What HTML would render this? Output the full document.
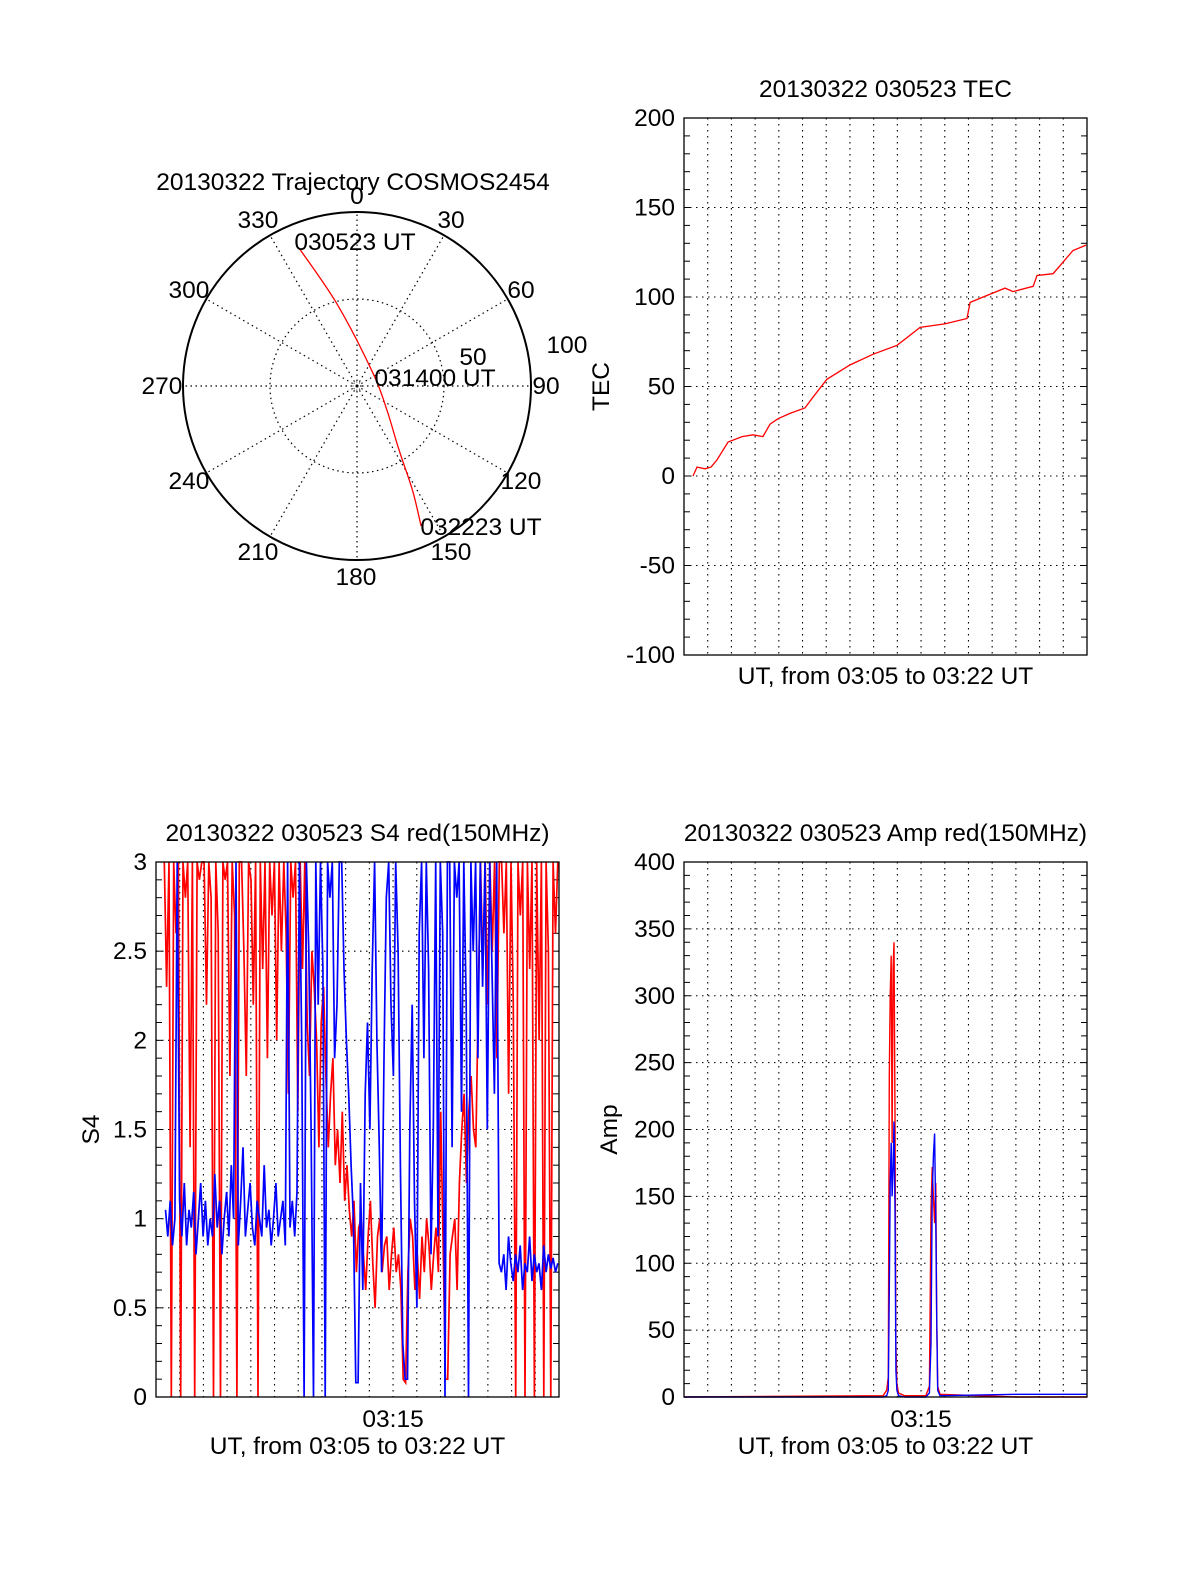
<!DOCTYPE html>
<html><head><meta charset="utf-8"><style>
html,body{margin:0;padding:0;background:#fff}
svg text{font-family:"Liberation Sans",sans-serif;font-size:24.5px;fill:#000}
</style></head><body>
<svg id="c" width="1200" height="1575" viewBox="0 0 1200 1575" xmlns="http://www.w3.org/2000/svg"></svg>
<script>
// ---- Polar trajectory data ----
const trajAz = [337.2, 346.5, 50.9, 128.7, 146.7, 152, 155.4];
const trajR = [86, 48, 11.8, 22, 44, 68, 88.5];
const polarAngles = [0,30,60,90,120,150,180,210,240,270,300,330];
// ---- TEC data ----
const tecT = [0.38,0.55,0.89,1.14,1.39,1.86,2.45,2.91,3.33,3.63,3.97,4.47,5.1,5.44,6.03,7.0,7.97,8.99,9.96,11.0,11.94,12.07,13.54,13.88,14.73,14.89,15.57,16.41,16.96];
const tecV = [0,5,4,5,9,19,22,23,22,29,32,35,38,44,54,62,68,73,83,85,88,97,105,103,106,112,113,126,129];
const tecTicks = [200,150,100,50,0,-50,-100];
// ---- S4 data (uniform time steps) ----
const s4Red = [3,2.3,3,0,3,2.6,3,0,3,2.8,3,1.4,3,0,3,2.9,3,3,2.2,3,2.8,0,3,2.6,0,3,2.9,3,1.8,3,2.7,0,3,3,2.5,1.8,3,2.9,2.2,3,0,3,2.4,3,1.9,3,2.7,3,2.0,3,2.5,3,2.6,1.7,3,2.8,3,1.6,3,2.4,3,2.1,1.8,2.5,2.3,2.0,1.4,2.1,2.3,1.8,1.4,1.7,1.9,1.3,1.5,1.2,1.6,1.1,1.3,1.05,0.9,1.1,0.7,0.95,1.0,0.8,0.6,0.9,1.1,0.75,0.5,0.9,1.0,0.7,0.85,0.9,0.6,0.8,0.95,0.7,0.8,0.6,0.1,0.08,0.7,1.0,0.9,0.6,0.8,0.55,0.9,0.7,1.0,0.85,0.6,0.8,0.95,0.7,1.6,0.9,0.1,0.1,0.8,0.9,1.0,0.6,1.2,1.5,1.7,1.2,1.6,1.8,1.5,1.4,2.2,3,2.4,3,2.2,3,2.5,3,1.9,3,3,2.6,3,1.7,3,2.2,0,3,2.7,3,0,3,2.4,3,0,3,2.0,3,0,3,2.5,0,3,2.6,3];
const s4RedStart = 0.35, s4RedEnd = 16.95;
const s4Blue = [1.05,0.9,1.1,0.85,1.0,3,1.1,0.9,1.2,0.85,1.05,0.95,1.15,0.8,1.0,1.2,0.9,1.1,0.85,1.0,0.9,1.25,0.95,1.1,0.8,1.0,1.15,0.9,1.3,1.0,3,0.85,1.1,1.4,0.9,1.05,1.2,0.95,0.85,1.1,1.0,0.9,1.3,0.95,1.05,0.85,1.0,1.2,0.9,1.0,1.1,0.85,3,0.95,1.1,0.9,1.15,3,2.0,0,3,2.5,1.5,0,3,2.2,3,2.4,0,3,2.8,3,1.9,2.2,3,3,2.4,2.0,1.7,1.3,1.0,0.08,0.08,1.2,0.6,1.7,2.1,1.5,2.4,3,2.0,1.4,0.7,1.9,2.8,3,2.2,1.8,3,2.5,1.3,0.3,0.1,0.1,1.5,2.2,1.1,0.5,2.6,3,1.9,3,2.4,0.8,1.5,3,0.9,3,2.6,0,3,3,1.4,3,2.8,3,1.6,3,2.2,0,3,2.5,3,1.9,3,2.3,3,1.5,3,2.4,1.7,3,0.75,0.7,0.8,0.6,0.9,0.75,0.65,0.8,0.7,0.85,0.6,0.75,0.7,0.9,0.65,0.8,0.7,0.75,0.6,0.85,0.7,0.8,0.72,0.78,0.7,0.75];
const s4BlueStart = 0.4, s4BlueEnd = 16.95;
const s4Ticks = [3,2.5,2,1.5,1,0.5,0];
// ---- Amp data ----
const ampT = [0,8.4,8.55,8.62,8.66,8.7,8.74,8.78,8.82,8.86,8.9,8.94,8.98,9.05,9.3,10.2,10.35,10.42,10.47,10.52,10.57,10.62,10.66,10.7,10.8,14,16.9,17];
const ampRed = [0,1,5,15,240,300,330,190,320,340,210,40,10,3,1,1,8,140,172,150,130,160,60,8,2,0,0,0];
const ampBlue = [0,0,1,5,80,160,190,150,170,206,140,20,5,1,0,0,3,40,150,180,197,130,60,5,1,2,2,2];
const ampTicks = [400,350,300,250,200,150,100,50,0];

const NS='http://www.w3.org/2000/svg';
const svg=document.getElementById('c');
function mk(tag,attrs,parent){const e=document.createElementNS(NS,tag);for(const k in attrs)e.setAttribute(k,attrs[k]);(parent||svg).appendChild(e);return e;}
function txt(s,x,y,anchor,parent){const t=mk('text',{x:x,y:y,'text-anchor':anchor||'middle'},parent);t.textContent=s;return t;}

// ---------- Polar ----------
const pg=mk('g',{});


const cx=357,cy=386,R=174;
function pr(r){return r/100*R;}
function pxy(az,r){const a=az*Math.PI/180;return [cx+pr(r)*Math.sin(a),cy-pr(r)*Math.cos(a)];}
polarAngles.forEach(a=>{const p=pxy(a,100);const l=mk('line',{x1:cx,y1:cy,x2:p[0],y2:p[1],stroke:'#000','stroke-dasharray':'1.5,3.5','stroke-width':1.2},pg);

});
const ic=mk('circle',{cx:cx,cy:cy,r:pr(50),fill:'none',stroke:'#000','stroke-dasharray':'1.5,3.5','stroke-width':1.2},pg);


const oc=mk('circle',{cx:cx,cy:cy,r:R,fill:'none',stroke:'#000','stroke-width':2},pg);


mk('circle',{cx:cx,cy:cy,r:4,fill:'none',stroke:'#000','stroke-dasharray':'1,2'},pg);
const lblPos={0:[357,204],30:[451,228],60:[521,298],90:[546,394],120:[521,489],150:[451,560],180:[356,585],210:[258,560],240:[189,489],270:[162,394],300:[189,298],330:[258,228]};
polarAngles.forEach(a=>{const t=txt(String(a),lblPos[a][0],lblPos[a][1],'middle',pg);

});
let tp=trajAz.map((a,i)=>pxy(a,trajR[i]));
let d='M'+tp[0][0]+','+tp[0][1];
for(let i=0;i<tp.length-1;i++){const p0=tp[Math.max(0,i-1)],p1=tp[i],p2=tp[i+1],p3=tp[Math.min(tp.length-1,i+2)];
d+=' C'+(p1[0]+(p2[0]-p0[0])/6)+','+(p1[1]+(p2[1]-p0[1])/6)+' '+(p2[0]-(p3[0]-p1[0])/6)+','+(p2[1]-(p3[1]-p1[1])/6)+' '+p2[0]+','+p2[1];}
const tr=mk('path',{d:d,fill:'none',stroke:'#f00','stroke-width':1.3},pg);


[['20130322 Trajectory COSMOS2454',353,190,'polar-title'],['030523 UT',355,250,'start-time-label'],['031400 UT',435,386,'mid-time-label'],['032223 UT',481,535,'end-time-label'],['50',473,365,'radius-label-50'],['100',567,353,'radius-label-100']].forEach(a=>{const t=txt(a[0],a[1],a[2],'middle',pg);

});

// ---------- Cartesian helper ----------
function axes(name,x0,x1,y0,y1,vmin,vmax,ticks,minorStep,title,ylabel,ylx,showTime){
  const g=mk('g',{});
  
  
  const sx=t=>x0+(x1-x0)*t/17, sy=v=>y1-(y1-y0)*(v-vmin)/(vmax-vmin);
  for(let k=1;k<17;k++){const l=mk('line',{x1:sx(k),x2:sx(k),y1:y0,y2:y1,stroke:'#000','stroke-dasharray':'1.5,4.5','stroke-width':1.1},g);
  
  }
  ticks.forEach(v=>{if(v!==vmin&&v!==vmax){const l=mk('line',{x1:x0,x2:x1,y1:sy(v),y2:sy(v),stroke:'#000','stroke-dasharray':'1.5,4.5','stroke-width':1.1},g);
  
  }
  const t=txt(String(v),x0-9,sy(v)+8,'end',g);
  
  });
  for(let v=vmin;v<=vmax+1e-9;v+=minorStep){const y=sy(v);
  mk('line',{x1:x0,x2:x0+6,y1:y,y2:y,stroke:'#000'},g);mk('line',{x1:x1-6,x2:x1,y1:y,y2:y,stroke:'#000'},g);}
  const tt=txt(title,(x0+x1)/2,y0-21,'middle',g);
  
  
  const xl=txt('UT, from 03:05 to 03:22 UT',(x0+x1)/2,y1+29+(showTime?28:0),'middle',g);
  
  
  if(showTime){const t=txt('03:15',sx(10),y1+30,'middle',g);
  
  }
  const yl=txt(ylabel,0,0,'middle',g);yl.setAttribute('transform','translate('+ylx+','+((y0+y1)/2)+') rotate(-90)');
  
  
  return {g,sx,sy,x0,x1,y0,y1};
}
function frame(a){const r=mk('rect',{x:a.x0,y:a.y0,width:a.x1-a.x0,height:a.y1-a.y0,fill:'none',stroke:'#000','stroke-width':1.3},a.g);

}
function line(a,ts,vs,color,name,w){const pts=ts.map((t,i)=>a.sx(t).toFixed(1)+','+a.sy(vs[i]).toFixed(1)).join(' ');
const p=mk('polyline',{points:pts,fill:'none',stroke:color,'stroke-width':w||1.2,'stroke-linejoin':'miter'},a.g);

}
function uni(vals,t0,t1){return vals.map((v,i)=>t0+(t1-t0)*i/(vals.length-1));}

// TEC
const A=axes('tec-chart',684,1087,118,655,-100,200,tecTicks,10,'20130322 030523 TEC','TEC',609,false);
line(A,tecT,tecV,'#f00','tec-line',1.3);frame(A);
// S4
const B=axes('s4-chart',156,559,862,1397,0,3,s4Ticks,0.1,'20130322 030523 S4 red(150MHz)','S4',99,true);
line(B,uni(s4Red,s4RedStart,s4RedEnd),s4Red,'#f00','s4-red-line',1.7);
line(B,uni(s4Blue,s4BlueStart,s4BlueEnd),s4Blue,'#00f','s4-blue-line',1.7);frame(B);
// Amp
const C=axes('amp-chart',684,1087,862,1397,0,400,ampTicks,10,'20130322 030523 Amp red(150MHz)','Amp',617,true);
line(C,ampT,ampRed,'#f00','amp-red-line',1.4);
line(C,ampT,ampBlue,'#00f','amp-blue-line',1.4);frame(C);
</script>
</body></html>
